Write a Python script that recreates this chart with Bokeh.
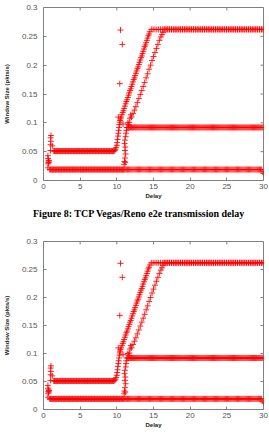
import numpy as np
from bokeh.plotting import figure
from bokeh.layouts import column
from bokeh.models import FixedTicker, Range1d, Div
from bokeh.embed import file_html
from bokeh.resources import INLINE

# ---------------- data ----------------
x_ticks = [0, 5, 10, 15, 20, 25, 30]
x_tick_labels = ["0", "5", "10", "15", "20", "25", "30"]
y_ticks = [0, 0.05, 0.1, 0.15, 0.2, 0.25, 0.3]
y_tick_labels = ["0", "0.05", "0.1", "0.15", "0.2", "0.25", "0.3"]

caption = "Figure 8: TCP Vegas/Reno e2e transmission delay"
x_label = "Delay"
y_label = "Window Size (pkts/s)"

# flat runs of samples: start time, end time, level, sample spacing
run_start = [0.85, 11.0, 1.4, 14.7, 11.35, 16.45]
run_end = [11.0, 29.8, 9.6, 30.0, 30.0, 30.0]
run_level = [0.019, 0.019, 0.051, 0.262, 0.092, 0.262]
run_step = [0.1, 0.15, 0.1, 0.25, 0.13, 0.25]

# end of the lowest flow
tail_x = [29.9, 30.0]
tail_y = [0.015, 0.012]

# start-up spike
spike_x = [0.6, 0.65, 0.68, 0.7, 0.72, 0.75, 0.6, 0.62, 0.95, 0.97, 1.0, 0.98, 1.02, 1.2]
spike_y = [0.022, 0.029, 0.032, 0.035, 0.031, 0.034, 0.043, 0.038, 0.052, 0.062, 0.068, 0.074, 0.078, 0.06]

# first ramp (steep start)
r1a_x = [9.7, 9.8, 9.9, 10.0, 10.05, 10.1, 10.15, 10.2, 10.25, 10.3, 10.35, 10.4, 10.45, 10.5]
r1a_y = [0.052, 0.054, 0.057, 0.061, 0.066, 0.071, 0.077, 0.082, 0.087, 0.092, 0.097, 0.101, 0.104, 0.107]

# first ramp (main part)
r1_x = [10.6, 10.7, 10.8, 10.9, 11.0, 11.1, 11.2, 11.3, 11.4, 11.5, 11.6, 11.7, 11.8, 11.9,
        12.0, 12.1, 12.2, 12.3, 12.4, 12.5, 12.6, 12.7, 12.8, 12.9, 13.0, 13.1, 13.2, 13.3,
        13.4, 13.5, 13.6, 13.7, 13.8, 13.9, 14.0, 14.1, 14.2, 14.3, 14.4, 14.5]
r1_y = [0.110, 0.114, 0.118, 0.121, 0.125, 0.129, 0.133, 0.137, 0.140, 0.144, 0.148, 0.152,
        0.156, 0.159, 0.163, 0.167, 0.171, 0.175, 0.178, 0.182, 0.186, 0.190, 0.194, 0.197,
        0.201, 0.205, 0.209, 0.213, 0.216, 0.220, 0.224, 0.228, 0.232, 0.235, 0.239, 0.243,
        0.247, 0.251, 0.254, 0.258]

# outliers around t = 10..11
out_x = [10.5, 10.75, 10.4, 10.2, 10.85]
out_y = [0.261, 0.236, 0.168, 0.11, 0.098]

# flow starting at t = 11
f3_x = [11.0, 11.05, 11.1, 11.15, 11.2, 11.1, 11.15, 11.05, 11.1, 11.2, 11.25, 11.3]
f3_y = [0.028, 0.033, 0.039, 0.031, 0.046, 0.052, 0.058, 0.064, 0.070, 0.076, 0.082, 0.087]

# second ramp
r2_x = [11.5, 11.6, 11.7, 11.8, 11.9, 12.0, 12.2, 12.4, 12.6, 12.8, 13.0, 13.2, 13.4, 13.6,
        13.8, 14.0, 14.2, 14.4, 14.6, 14.8, 15.0, 15.2, 15.4, 15.6, 15.8, 16.0, 16.15, 16.3]
r2_y = [0.100, 0.097, 0.101, 0.108, 0.114, 0.110, 0.116, 0.122, 0.128, 0.135, 0.142, 0.149,
        0.156, 0.163, 0.170, 0.178, 0.185, 0.193, 0.200, 0.208, 0.215, 0.222, 0.229, 0.236,
        0.243, 0.249, 0.253, 0.257]

# ---------------- build the samples ----------------
xs, ys = [], []
for s, e, lv, st in zip(run_start, run_end, run_level, run_step):
    t = np.arange(s, e + 1e-9, st)
    xs.extend(t.tolist())
    ys.extend([lv] * len(t))
for a, b in [(tail_x, tail_y), (spike_x, spike_y), (r1a_x, r1a_y), (r1_x, r1_y),
             (out_x, out_y), (f3_x, f3_y), (r2_x, r2_y)]:
    xs.extend(a)
    ys.extend(b)

RED = "#ff0000"
GRAY = "#808080"
X0, X1 = 0, 30
Y0, Y1 = 0, 0.3
W = 269
BL, BR = 42, 6
TICK = 3  # px


def style_axis(ax, ticks, labels):
    ax.ticker = FixedTicker(ticks=ticks)
    ax.major_label_overrides = {t: l for t, l in zip(ticks, labels)}
    ax.axis_line_color = None
    ax.major_tick_in = TICK
    ax.major_tick_out = 0
    ax.major_tick_line_color = GRAY
    ax.minor_tick_line_color = None
    ax.major_label_text_font = "Liberation Sans"
    ax.major_label_text_color = "#555555"
    ax.major_label_text_font_size = "8px"


def make_fig(height, top, bottom):
    p = figure(width=W, height=height, output_backend="svg", toolbar_location=None,
               x_range=Range1d(X0, X1), y_range=Range1d(Y0, Y1),
               min_border_left=BL, min_border_right=BR, min_border_top=top,
               min_border_bottom=bottom)
    p.xgrid.visible = False
    p.ygrid.visible = False
    p.outline_line_color = GRAY
    p.outline_line_width = 1
    p.background_fill_color = "white"
    p.border_fill_color = "white"

    style_axis(p.xaxis[0], x_ticks, x_tick_labels)
    style_axis(p.yaxis[0], y_ticks, y_tick_labels)
    p.xaxis.major_label_standoff = 3
    p.yaxis.major_label_standoff = 6
    p.xaxis.axis_label = x_label
    p.yaxis.axis_label = y_label
    for ax in (p.xaxis[0], p.yaxis[0]):
        ax.axis_label_text_font = "Liberation Sans"
        ax.axis_label_text_font_style = "bold"
        ax.axis_label_text_font_size = "6px"
        ax.axis_label_text_color = "#222222"
    p.xaxis.axis_label_standoff = 1
    p.yaxis.axis_label_standoff = 9

    # mirrored inward ticks on the top and right edges
    frame_h = height - top - bottom
    frame_w = W - BL - BR
    dy = TICK * (Y1 - Y0) / frame_h
    dx = TICK * (X1 - X0) / frame_w
    p.segment(x0=x_ticks, y0=[Y1] * len(x_ticks), x1=x_ticks, y1=[Y1 - dy] * len(x_ticks),
              line_color=GRAY, line_width=1)
    p.segment(x0=[X1] * len(y_ticks), y0=y_ticks, x1=[X1 - dx] * len(y_ticks), y1=y_ticks,
              line_color=GRAY, line_width=1)

    p.scatter(xs, ys, marker="cross", size=6, line_color=RED, line_width=1, line_alpha=0.85)
    return p


p1 = make_fig(203, 7, 23)
cap = Div(text=caption, width=W, height=22,
          styles={"font-family": "Liberation Serif", "font-size": "10px",
                  "font-weight": "bold", "color": "black", "line-height": "22px",
                  "padding-left": "33px", "white-space": "nowrap",
                  "box-sizing": "border-box", "margin": "0"})
p2 = make_fig(208, 16, 24)

layout = column(p1, cap, p2, spacing=0)
open("out.html", "w").write(file_html(layout, INLINE))
